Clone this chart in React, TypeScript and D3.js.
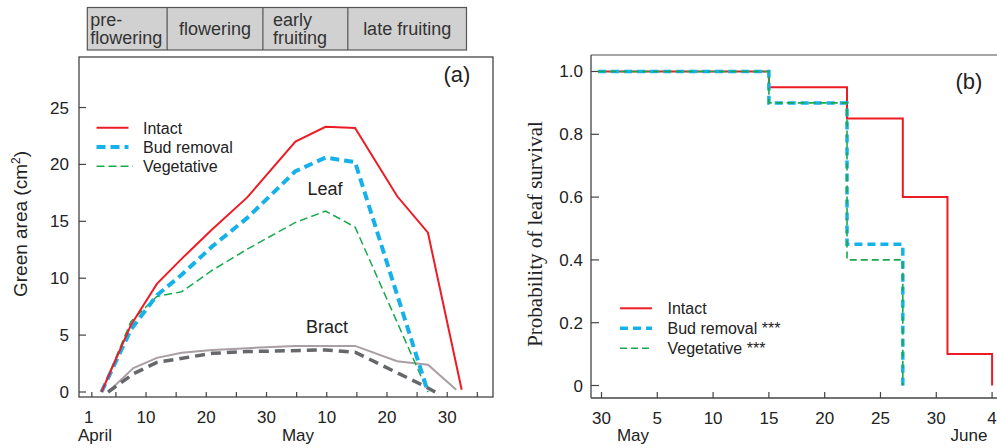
import React from "react";
import * as d3 from "d3";

// ---------- Panel (a) data: days since 1 April ----------
const leafDays = [1.6, 6.5, 10.8, 14.9, 20, 25.8, 33.8, 38.8, 43.7, 50.7, 55.8, 61.4];
const intactLeaf = [0, 5.9, 9.5, 11.7, 14.3, 17.1, 22.0, 23.3, 23.2, 17.2, 14.0, 0.2];
const budDays = [1.6, 6.5, 10.8, 14.9, 20, 25.8, 33.8, 38.8, 43.7, 55.8];
const budLeaf = [0, 5.5, 8.5, 10.3, 12.8, 15.3, 19.4, 20.6, 20.2, 0];
const vegLeaf = [0, 6.2, 8.4, 8.8, 10.7, 12.55, 14.9, 15.9, 14.5, 0];
const bractIntactDays = [2.7, 6.9, 10.8, 14.9, 20, 25.8, 33.8, 43.7, 50.7, 55.8, 60.5];
const bractIntact = [0, 2.1, 3.0, 3.45, 3.7, 3.85, 4.05, 4.05, 2.7, 2.4, 0.2];
const bractBudDays = [2.7, 6.9, 10.8, 20, 25.8, 38.8, 43.7, 55.3, 57];
const bractBud = [0, 1.6, 2.6, 3.4, 3.55, 3.7, 3.5, 0.5, 0];

const aYTicks = [0, 5, 10, 15, 20, 25];
const aXTicks = [0, 4, 9, 14, 19, 24, 29, 34, 39, 44, 49, 54, 59, 64];
const aXLabelDays = [0, 9, 19, 29, 39, 49, 59];
const aXLabels = ["1", "10", "20", "30", "10", "20", "30"];

const phaseBounds = [-0.75, 12.5, 28.4, 42.5, 62.2];
const phaseLabels = [["pre-", "flowering"], ["flowering"], ["early", "fruiting"], ["late fruiting"]];

// ---------- Panel (b) data ----------
const intactSurvDays = [28.7, 44, 51, 56, 60, 64];
const intactSurv = [1.0, 0.95, 0.85, 0.6, 0.1, 0];
const budSurvDays = [28.7, 44, 51, 56];
const budSurv = [1.0, 0.9, 0.45, 0];
const vegSurv = [1.0, 0.9, 0.4, 0];

const bYTicks = [0, 0.2, 0.4, 0.6, 0.8, 1.0];
const bXTicks = [29, 34, 39, 44, 49, 54, 59, 64];
const bXLabels = ["30", "5", "10", "15", "20", "25", "30", "4"];

const RED = "#ec1c24";
const BLUE = "#17b1ea";
const GREEN = "#1aa84e";
const BRACT = "#a99ea3";
const BRACT_D = "#65676a";
const AX = "#444";
const SANS = "'Liberation Sans', Arial, sans-serif";
const SERIF = "'Liberation Serif', 'Times New Roman', serif";

export default function App() {
  // panel (a) scales
  const ax = d3.scaleLinear().domain([-2.13, 66.6]).range([79, 493]);
  const ay = d3.scaleLinear().domain([-0.44, 29.44]).range([397, 57]);
  // panel (b) scales
  const bx = d3.scaleLinear().domain([28.06, 64.44]).range([591, 997]);
  const by = d3.scaleLinear().domain([-0.0398, 1.0525]).range([398, 55]);

  const lineA = (xs: number[], ys: number[]) =>
    d3.line<number>().x((_, i) => ax(xs[i])).y((v) => ay(v))(ys) || "";
  const lineB = (xs: number[], ys: number[]) =>
    d3.line<number>().curve(d3.curveStepAfter).x((_, i) => bx(xs[i])).y((v) => by(v))(ys) || "";

  const legA = [
    { label: "Intact", color: RED, w: 2, dash: "none" },
    { label: "Bud removal", color: BLUE, w: 4, dash: "9,5" },
    { label: "Vegetative", color: GREEN, w: 1.5, dash: "8,4" },
  ];
  const legB = [
    { label: "Intact", color: RED, w: 2, dash: "none" },
    { label: "Bud removal ***", color: BLUE, w: 3.5, dash: "8,5" },
    { label: "Vegetative ***", color: GREEN, w: 1.5, dash: "7,4" },
  ];

  return (
    <svg width={997} height={448} style={{ position: "absolute", left: 0, top: 0, background: "#fff" }} fontFamily={SANS}>
      {/* Phase boxes */}
      <g>
        <rect x={ax(phaseBounds[0])} y={7.5} width={ax(phaseBounds[4]) - ax(phaseBounds[0])} height={42.5} fill="#d1d1d1" stroke="#555" strokeWidth={1.2} />
        {phaseBounds.slice(1, 4).map((d, i) => (
          <line key={i} x1={ax(d)} x2={ax(d)} y1={7.5} y2={50} stroke="#555" strokeWidth={1.2} />
        ))}
        {phaseLabels.map((lab, i) => {
          const x0 = ax(phaseBounds[i]);
          const x1 = ax(phaseBounds[i + 1]);
          if (lab.length === 2) {
            const tx = x0 + (i === 0 ? 3 : 10);
            return (
              <g key={i}>
                <text x={tx} y={25.5} fontSize={18} fill="#333">{lab[0]}</text>
                <text x={tx} y={43.5} fontSize={18} fill="#333">{lab[1]}</text>
              </g>
            );
          }
          return (
            <text key={i} x={(x0 + x1) / 2} y={35} fontSize={18} fill="#333" textAnchor="middle">{lab[0]}</text>
          );
        })}
      </g>

      {/* Panel (a) */}
      <g>
        <rect x={79} y={57} width={414} height={340} fill="none" stroke={AX} strokeWidth={1.3} />
        {aYTicks.map((t) => (
          <g key={t}>
            <line x1={79} x2={86} y1={ay(t)} y2={ay(t)} stroke={AX} strokeWidth={1.2} />
            <text x={69} y={ay(t) + 6} textAnchor="end" fontSize={17} fill="#222">{t}</text>
          </g>
        ))}
        {aXTicks.map((t) => (
          <line key={t} x1={ax(t)} x2={ax(t)} y1={397} y2={392} stroke={AX} strokeWidth={1.2} />
        ))}
        {aXLabelDays.map((t, i) => (
          <text key={t} x={ax(t) - (i === 0 ? 3 : 0)} y={423} textAnchor="middle" fontSize={17} fill="#222">{aXLabels[i]}</text>
        ))}
        <text x={78} y={441} fontSize={17} fill="#222">April</text>
        <text x={298} y={441} fontSize={17} fill="#222" textAnchor="middle">May</text>
        <text transform="translate(27,224) rotate(-90)" textAnchor="middle" fontSize={19} fill="#222">
          Green area (cm<tspan dy={-7} fontSize={12}>2</tspan><tspan dy={7}>)</tspan>
        </text>
        <text x={457} y={82} textAnchor="middle" fontSize={22} fill="#222">(a)</text>

        <path d={lineA(bractIntactDays, bractIntact)} fill="none" stroke={BRACT} strokeWidth={2} />
        <path d={lineA(bractBudDays, bractBud)} fill="none" stroke={BRACT_D} strokeWidth={3.5} strokeDasharray="10,6" />
        <path d={lineA(budDays, vegLeaf)} fill="none" stroke={GREEN} strokeWidth={1.5} strokeDasharray="8,4" />
        <path d={lineA(budDays, budLeaf)} fill="none" stroke={BLUE} strokeWidth={4} strokeDasharray="9,5" />
        <path d={lineA(leafDays, intactLeaf)} fill="none" stroke={RED} strokeWidth={2} />

        <text x={325} y={195} textAnchor="middle" fontSize={18} fill="#222">Leaf</text>
        <text x={327} y={333} textAnchor="middle" fontSize={18} fill="#222">Bract</text>

        {legA.map((l, i) => (
          <g key={l.label}>
            <line x1={96.5} x2={i === 2 ? 133 : 128.5} y1={127.7 + i * 19.3} y2={127.7 + i * 19.3} stroke={l.color} strokeWidth={l.w} strokeDasharray={l.dash} />
            <text x={143} y={127.7 + i * 19.3 + 6} fontSize={16} fill="#222">{l.label}</text>
          </g>
        ))}
      </g>

      {/* Panel (b) */}
      <g>
        <line x1={591} x2={997} y1={55} y2={55} stroke="#888" strokeWidth={1.3} />
        <line x1={591} x2={591} y1={55} y2={398} stroke={AX} strokeWidth={1.3} />
        <line x1={591} x2={997} y1={398} y2={398} stroke={AX} strokeWidth={1.3} />
        {bYTicks.map((t) => (
          <g key={t}>
            <line x1={591} x2={599} y1={by(t)} y2={by(t)} stroke={AX} strokeWidth={1.2} />
            <text x={583} y={by(t) + 6} textAnchor="end" fontSize={17} fill="#222">{t === 0 ? "0" : t.toFixed(1)}</text>
          </g>
        ))}
        {bXTicks.map((t, i) => (
          <g key={t}>
            <line x1={bx(t)} x2={bx(t)} y1={398} y2={392} stroke={AX} strokeWidth={1.2} />
            <text x={bx(t)} y={424} textAnchor="middle" fontSize={17} fill="#222">{bXLabels[i]}</text>
          </g>
        ))}
        <text x={633} y={441} textAnchor="middle" fontSize={17} fill="#222">May</text>
        <text x={969} y={441} textAnchor="middle" fontSize={17} fill="#222">June</text>
        <text transform="translate(542,234) rotate(-90)" textAnchor="middle" fontSize={21} fill="#222" fontFamily={SERIF}>Probability of leaf survival</text>
        <text x={969} y={89} textAnchor="middle" fontSize={22} fill="#222">(b)</text>

        <path d={lineB(intactSurvDays, intactSurv)} fill="none" stroke={RED} strokeWidth={2} />
        <path d={lineB(budSurvDays, budSurv)} fill="none" stroke={BLUE} strokeWidth={3.5} strokeDasharray="8,5" />
        <path d={lineB(budSurvDays, vegSurv)} fill="none" stroke={GREEN} strokeWidth={1.6} strokeDasharray="7,4" />

        {legB.map((l, i) => (
          <g key={l.label}>
            <line x1={620} x2={652} y1={308.3 + i * 20} y2={308.3 + i * 20} stroke={l.color} strokeWidth={l.w} strokeDasharray={l.dash} />
            <text x={667.5} y={308.3 + i * 20 + 6} fontSize={16} fill="#222">{l.label}</text>
          </g>
        ))}
      </g>
    </svg>
  );
}
